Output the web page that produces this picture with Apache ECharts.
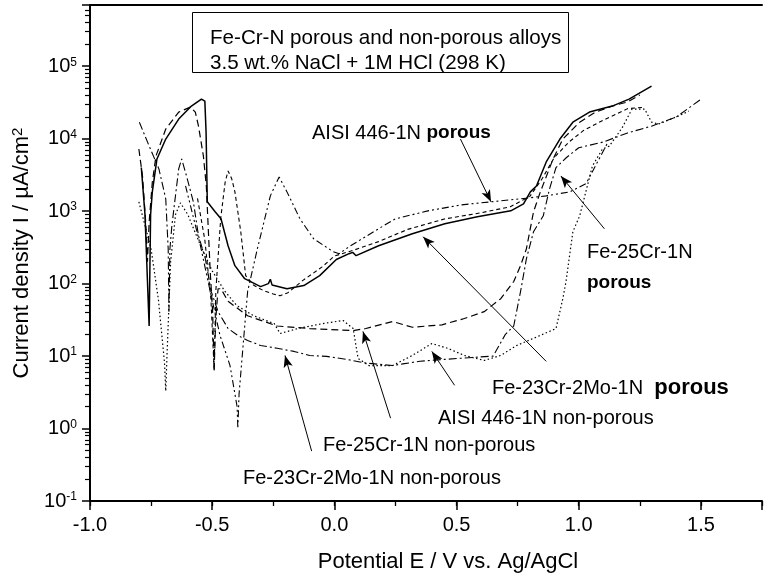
<!DOCTYPE html>
<html>
<head>
<meta charset="utf-8">
<script src="https://cdn.jsdelivr.net/npm/echarts@6/dist/echarts.min.js"></script>
<style>html,body{margin:0;padding:0;background:#fff}#c{width:765px;height:578px}</style>
</head>
<body>
<div id="c"></div>
<script>
// ---- data (potential V vs Ag/AgCl, current density µA/cm²) ----
const fe23PorousSolid = [[-0.79,4000],[-0.775,900],[-0.758,26],[-0.752,900],[-0.745,1845],[-0.726,5250],[-0.69,9890],[-0.637,18660],[-0.585,28200],[-0.544,35200],[-0.53,33000],[-0.525,12400],[-0.52,1345],[-0.488,980],[-0.464,785],[-0.435,333],[-0.407,177],[-0.367,117],[-0.302,91],[-0.27,100],[-0.262,115],[-0.255,96],[-0.194,85],[-0.125,94],[-0.06,129],[0.008,215],[0.06,259],[0.075,270],[0.089,243],[0.181,333],[0.319,488],[0.452,670],[0.585,836],[0.722,1010],[0.774,1262],[0.802,1845],[0.827,2230],[0.867,4775],[0.923,9890],[0.976,16900],[1.044,23300],[1.137,28200],[1.206,35200],[1.298,53000]];
const fe25NonPorousDash = [[-0.80,7200],[-0.785,3000],[-0.772,700],[-0.765,200],[-0.758,700],[-0.745,2500],[-0.73,5780],[-0.69,13600],[-0.637,23300],[-0.589,27300],[-0.569,23300],[-0.556,14900],[-0.536,5780],[-0.524,2230],[-0.508,146],[-0.498,40],[-0.492,6.2],[-0.486,30],[-0.476,85],[-0.464,85],[-0.435,57],[-0.355,36],[-0.234,26],[-0.101,24],[0.077,22.5],[0.129,24],[0.238,30],[0.319,25],[0.44,27],[0.532,33],[0.613,41],[0.681,62],[0.734,107],[0.762,177],[0.786,303],[0.815,980],[0.843,1845],[0.895,5250],[0.935,9890],[1.004,16900],[1.069,23300],[1.137,28200],[1.198,32000],[1.25,40000]];
const fe23NonPorousDashDot = [[-0.798,16900],[-0.758,7930],[-0.718,3830],[-0.69,1480],[-0.68,300],[-0.677,41],[-0.673,300],[-0.665,628],[-0.637,3830],[-0.625,5250],[-0.605,3060],[-0.577,1345],[-0.556,458],[-0.528,221],[-0.504,78],[-0.476,41],[-0.435,24],[-0.395,19.3],[-0.355,16.4],[-0.302,14],[-0.234,12.8],[-0.165,11.6],[-0.101,10.2],[-0.032,9.9],[0.05,9],[0.129,8],[0.238,7.4],[0.28,7.8],[0.35,8.5],[0.45,9],[0.55,9.5],[0.65,10],[0.70,20],[0.734,26],[0.762,78],[0.786,221],[0.815,520],[0.855,863],[0.88,2000],[0.907,4000],[0.95,5500],[1.0,7500],[1.1,9000],[1.2,12000],[1.3,15000],[1.4,20000],[1.5,35000]];
const aisiPorousDashDotDot = [[-0.609,2230],[-0.548,333],[-0.508,78],[-0.468,19.3],[-0.427,7.4],[-0.398,2],[-0.395,1.0],[-0.39,3],[-0.355,78],[-0.315,303],[-0.262,1625],[-0.226,2970],[-0.194,1845],[-0.141,785],[-0.085,416],[-0.004,275],[0.02,259],[0.06,323],[0.181,572],[0.25,785],[0.383,1010],[0.52,1222],[0.641,1345],[0.762,1480],[0.867,1625],[0.964,1845],[1.03,2400],[1.08,5000],[1.12,9000]];
const fe25PorousShortDash = [[-0.56,1500],[-0.53,400],[-0.505,60],[-0.492,6.5],[-0.485,80],[-0.465,800],[-0.447,2500],[-0.435,3590],[-0.42,2800],[-0.407,1845],[-0.383,520],[-0.363,129],[-0.33,95],[-0.29,80],[-0.25,72],[-0.222,68],[-0.19,75],[-0.13,110],[-0.05,170],[0.0,240],[0.08,290],[0.181,380],[0.3,560],[0.45,780],[0.6,950],[0.72,1150],[0.8,1600],[0.85,2800],[0.9,5500],[0.96,9000],[1.02,13000],[1.1,18000],[1.2,26000],[1.26,27000]];
const aisiNonPorousDot = [[-0.80,1345],[-0.75,300],[-0.72,60],[-0.695,8],[-0.69,3.3],[-0.685,10],[-0.67,200],[-0.65,900],[-0.63,1300],[-0.6,900],[-0.55,350],[-0.5,150],[-0.45,80],[-0.4,50],[-0.33,36],[-0.246,28],[-0.222,20.5],[-0.15,24],[-0.05,28],[0.036,31],[0.077,24],[0.097,9.3],[0.141,7.4],[0.238,7.4],[0.319,10.2],[0.399,14.9],[0.464,12.8],[0.532,10.2],[0.613,8.7],[0.681,10.2],[0.746,14],[0.843,19.3],[0.907,24],[0.935,62],[0.948,107],[0.976,520],[1.004,863],[1.056,4200],[1.097,7200],[1.125,7900],[1.177,14000],[1.218,25600],[1.27,25600],[1.298,16900],[1.327,15900],[1.407,20500],[1.45,24000]];

const xTickLabels = ['-1.0','-0.5','0.0','0.5','1.0','1.5'];
const yMin = 0.1, yMax = 7e5, xMin = -1, xMax = 1.75;

const FONT = '"Liberation Sans", Arial, Helvetica, sans-serif';
const chart = echarts.init(document.getElementById('c'), null, {renderer:'canvas'});

function mkSeries(name, data, type, width) {
  return {name, type:'line', data, xAxisIndex:0, yAxisIndex:0, symbol:'none', showSymbol:false,
    lineStyle:{color:'#000', width:width||1.1, type:type}, silent:true, animation:false, z:3};
}

const arrows = [
  [[0.516,9890],[0.641,1345]],
  [[1.105,572],[0.927,3060]],
  [[0.867,8.45],[0.363,443]],
  [[0.492,3.95],[0.399,11.6]],
  [[0.230,1.39],[0.117,21.9]],
  [[-0.093,0.488],[-0.202,10.2]]
];

const series = [
  mkSeries('Fe-23Cr-2Mo-1N porous', fe23PorousSolid, 'solid', 1.5),
  mkSeries('Fe-25Cr-1N non-porous', fe25NonPorousDash, [7,4], 1.2),
  mkSeries('Fe-23Cr-2Mo-1N non-porous', fe23NonPorousDashDot, [8,3,2,3], 1.1),
  mkSeries('AISI 446-1N porous', aisiPorousDashDotDot, [7,3,2,3,2,3], 1.1),
  mkSeries('Fe-25Cr-1N porous', fe25PorousShortDash, [4,3], 1.1),
  mkSeries('AISI 446-1N non-porous', aisiNonPorousDot, [1.5,2.5], 1.2)
];
series[0].markLine = {
  silent:true, animation:false, symbol:['none','arrow'], symbolSize:[7,12],
  label:{show:false}, lineStyle:{color:'#000', width:1, type:'solid'},
  data: arrows.map(a => [{coord:a[0]},{coord:a[1]}])
};

function ann(x, y, text, rich, size) {
  return {type:'text', left:x, top:y, z:10, silent:true,
    style:{text, fill:'#000', font:(size||20) + 'px ' + FONT, rich, verticalAlign:'middle'}};
}
const richN = {n:{fontSize:20, fontFamily:FONT, color:'#000'}, b:{fontSize:19, fontWeight:'bold', fontFamily:FONT, color:'#000'}, B:{fontSize:22, fontWeight:'bold', fontFamily:FONT, color:'#000'}};

const option = {
  animation:false,
  backgroundColor:'#fff',
  grid:{left:90, right:-7, top:5, bottom:75, containLabel:false},
  xAxis:[
    {type:'value', min:xMin, max:xMax, interval:0.5, position:'bottom',
     axisLine:{show:true, onZero:false, lineStyle:{color:'#000', width:2}},
     axisTick:{show:true, length:9, lineStyle:{color:'#000', width:1.5}},
     axisLabel:{color:'#000', fontSize:20, fontFamily:FONT, margin:14,
       formatter:v => { const i = Math.round((v + 1) / 0.5); return Math.abs((v+1)/0.5 - i) < 1e-6 && xTickLabels[i] !== undefined ? xTickLabels[i] : ''; }},
     splitLine:{show:false},
     name:'Potential E / V vs. Ag/AgCl', nameLocation:'middle', nameGap:50,
     nameTextStyle:{color:'#000', fontSize:22, fontFamily:FONT, padding:[0,0,0,44]}},
    {type:'value', min:xMin, max:xMax, interval:0.25, position:'bottom',
     axisLine:{show:false, onZero:false}, axisTick:{show:true, length:5, lineStyle:{color:'#000', width:1.3}},
     axisLabel:{show:false}, splitLine:{show:false}},
    {type:'value', min:xMin, max:xMax, position:'top',
     axisLine:{show:true, onZero:false, lineStyle:{color:'#000', width:2}}, axisTick:{show:false},
     axisLabel:{show:false}, splitLine:{show:false}}
  ],
  yAxis:[
    {type:'log', logBase:10, min:yMin, max:yMax, position:'left',
     axisLine:{show:true, onZero:false, lineStyle:{color:'#000', width:2}},
     axisTick:{show:true, length:8, lineStyle:{color:'#000', width:1.5}},
     minorTick:{show:true, splitNumber:9, length:5, lineStyle:{color:'#000', width:1.2}},
     axisLabel:{color:'#000', margin:13,
       formatter:v => { const e = Math.log10(v), r = Math.round(e); if (Math.abs(e - r) > 1e-6 || r > 5) return ''; return '{b|10}{s|' + r + '}'; },
       rich:{b:{fontSize:20, fontFamily:FONT, color:'#000'}, s:{fontSize:12, fontFamily:FONT, color:'#000', verticalAlign:'top', padding:[0,0,7,0]}}},
     splitLine:{show:false}, minorSplitLine:{show:false},
     name:'Current density I / µA/cm{s|2}', nameLocation:'middle', nameGap:55, nameRotate:90,
     nameTextStyle:{color:'#000', fontSize:22, fontFamily:FONT,
       rich:{s:{fontSize:15, fontFamily:FONT, color:'#000', verticalAlign:'top', padding:[0,0,8,0]}}}}
  ],
  series,
  graphic:[
    {type:'rect', left:192, top:12, z:9, silent:true, shape:{width:376, height:60}, style:{fill:'#fff', stroke:'#000', lineWidth:1}},
    ann(210, 28, 'Fe-Cr-N porous and non-porous alloys', null, 20.6),
    ann(210, 53, '3.5 wt.% NaCl + 1M HCl (298 K)', null, 20.6),
    ann(312, 123, '{n|AISI 446-1N }{b|porous}', richN),
    ann(587, 242, 'Fe-25Cr-1N'),
    ann(587, 273, '{b|porous}', richN),
    ann(492, 377, '{n|Fe-23Cr-2Mo-1N  }{B|porous}', richN),
    ann(438, 408, 'AISI 446-1N non-porous'),
    ann(323, 435, 'Fe-25Cr-1N non-porous'),
    ann(243, 468, 'Fe-23Cr-2Mo-1N non-porous')
  ]
};
chart.setOption(option);
</script>
</body>
</html>
